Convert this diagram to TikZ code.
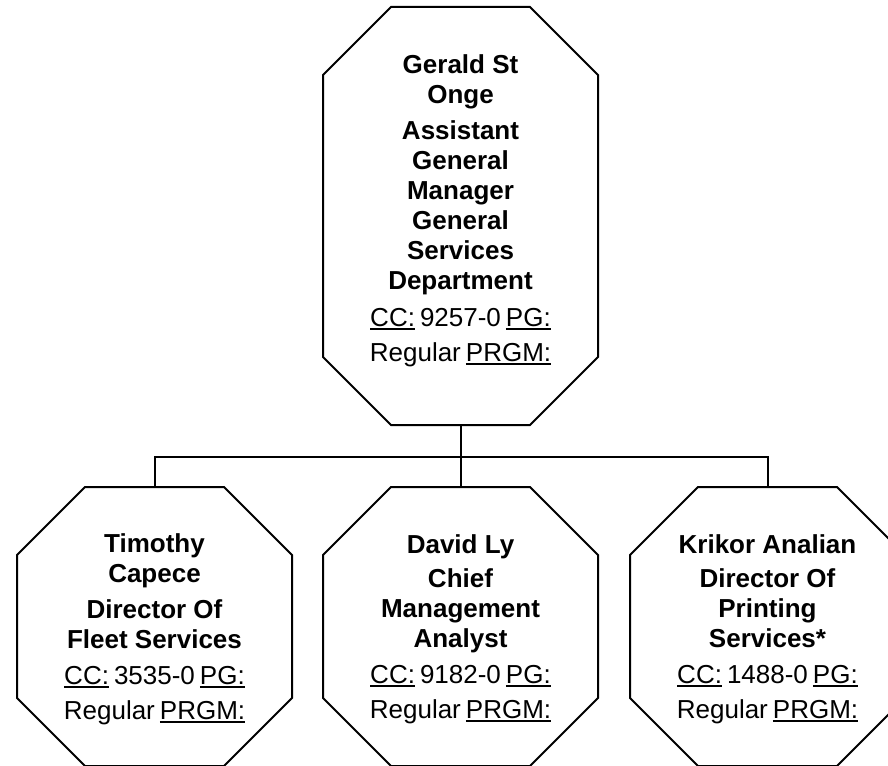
\documentclass[tikz,border=0pt]{standalone}
\usepackage{fontspec}
\setmainfont{Liberation Sans}
% underlined word with a rule under the baseline
\newcommand\ulword[1]{\setbox0\hbox{#1}\rlap{\rule[-3.6pt]{\wd0}{1.3pt}}\box0\relax}
% narrow word gap used in the cost-centre lines
\newcommand\gap{\hspace{5pt}}
\begin{document}
\begin{tikzpicture}[x=1pt,y=1pt,
  octline/.style={line width=2pt, line join=miter},
  link/.style={line width=2pt, line join=miter},
  frame/.style={draw=none, minimum width=275pt, inner sep=0pt, outer sep=0pt},
  boxtext/.style={align=center, inner sep=0pt, anchor=north,
    font=\fontsize{26}{30}\selectfont}]
\useasboundingbox (0,0) rectangle (888,-765);
\clip (0,0) rectangle (888,-765);

\def\cut{68pt}
% octagon outline around a frame node
\newcommand\drawoct[1]{%
  \draw[octline] ([yshift=-\cut]#1.north west) -- ([xshift=\cut]#1.north west)
    -- ([xshift=-\cut]#1.north east) -- ([yshift=-\cut]#1.north east)
    -- ([yshift=\cut]#1.south east) -- ([xshift=-\cut]#1.south east)
    -- ([xshift=\cut]#1.south west) -- ([yshift=\cut]#1.south west) -- cycle;}

% frames
\node[frame, minimum height=418pt] (gso) at (460.5,-216) {};
\node[frame, minimum height=279pt] (tc) at (154.5,-626.5) {};
\node[frame, minimum height=279pt] (dl) at (460.5,-626.5) {};
\node[frame, minimum height=279pt] (ka) at (767.5,-626.5) {};

\drawoct{gso}
\drawoct{tc}
\drawoct{dl}
\drawoct{ka}

% reporting lines
\coordinate (bus) at (460.5,-457);
\draw[link] (gso.south) -- (bus);
\draw[link] (tc.north) |- (bus) -| (ka.north);
\draw[link] (dl.north) -- (bus);

% texts
\node[boxtext] (gsot) at (460.5,-54) {\textbf{Gerald St}\\\textbf{Onge}\\[6.5pt]
  \textbf{Assistant}\\\textbf{General}\\\textbf{Manager}\\\textbf{General}\\
  \textbf{Services}\\\textbf{Department}\\[6.5pt]
  \ulword{CC:}\gap 9257-0\gap\ulword{PG:}\\[5pt]Regular\gap\ulword{PRGM:}};
\node[boxtext] (tct) at (154.5,-533) {\textbf{Timothy}\\\textbf{Capece}\\[6pt]
  \textbf{Director Of}\\\textbf{Fleet Services}\\[6pt]
  \ulword{CC:}\gap 3535-0\gap\ulword{PG:}\\[5pt]Regular\gap\ulword{PRGM:}};
\node[boxtext] (dlt) at (460.5,-534) {\textbf{David Ly}\\[4pt]
  \textbf{Chief}\\\textbf{Management}\\\textbf{Analyst}\\[6pt]
  \ulword{CC:}\gap 9182-0\gap\ulword{PG:}\\[5pt]Regular\gap\ulword{PRGM:}};
\node[boxtext] (kat) at (767.5,-534) {\textbf{Krikor Analian}\\[4pt]
  \textbf{Director Of}\\\textbf{Printing}\\\textbf{Services*}\\[6pt]
  \ulword{CC:}\gap 1488-0\gap\ulword{PG:}\\[5pt]Regular\gap\ulword{PRGM:}};
\end{tikzpicture}
\end{document}
